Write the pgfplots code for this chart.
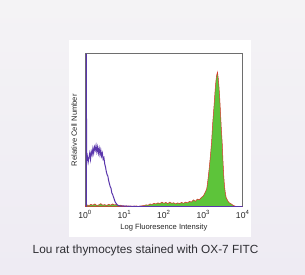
\documentclass[border=0pt]{standalone}
\usepackage{pgfplots}
\pgfplotsset{compat=1.18}
\usepackage{fontspec}
\setmainfont{Liberation Sans}
\definecolor{bgtop}{HTML}{F4F3F5}
\definecolor{bgbot}{HTML}{EEEBF3}
\definecolor{histpurple}{HTML}{5A36AC}
\definecolor{histgreen}{HTML}{5DC43A}
\definecolor{histred}{HTML}{D8332C}
\definecolor{frame}{HTML}{6E6E6E}
\definecolor{captxt}{HTML}{2E2E33}
\pgfplotstableread{
x y
0.035 0.0
0.035 1.0
0.04 0.30
0.06 0.33
0.08 0.29
0.10 0.32
0.12 0.35
0.14 0.31
0.16 0.36
0.18 0.34
0.20 0.38
0.22 0.35
0.24 0.39
0.26 0.37
0.28 0.40
0.30 0.36
0.32 0.39
0.34 0.35
0.36 0.38
0.38 0.34
0.40 0.37
0.42 0.33
0.44 0.35
0.46 0.31
0.48 0.32
0.50 0.28
0.52 0.26
0.54 0.23
0.56 0.21
0.58 0.20
0.60 0.17
0.62 0.15
0.64 0.13
0.66 0.12
0.68 0.09
0.70 0.08
0.72 0.065
0.74 0.05
0.76 0.035
0.78 0.025
0.80 0.018
0.82 0.012
0.85 0.008
0.88 0.005
0.92 0.003
0.96 0.006
1.00 0.002
1.05 0.005
1.10 0.001
1.15 0.004
1.20 0.0
1.25 0.003
1.30 0.0
1.40 0.002
1.50 0.0
4.00 0.0
}\purpledata
\pgfplotstableread{
x y
0.00 0.005
0.05 0.012
0.10 0.008
0.15 0.015
0.20 0.010
0.25 0.018
0.30 0.008
0.35 0.012
0.40 0.020
0.45 0.010
0.50 0.014
0.55 0.008
0.60 0.016
0.65 0.010
0.70 0.018
0.75 0.012
0.80 0.015
0.85 0.006
0.90 0.010
0.95 0.004
1.00 0.006
1.05 0.003
1.10 0.005
1.15 0.002
1.20 0.004
1.25 0.003
1.30 0.005
1.35 0.002
1.40 0.004
1.45 0.006
1.50 0.008
1.55 0.012
1.60 0.010
1.65 0.018
1.70 0.015
1.75 0.022
1.80 0.018
1.85 0.025
1.90 0.020
1.95 0.030
2.00 0.022
2.05 0.028
2.10 0.020
2.15 0.030
2.20 0.022
2.25 0.026
2.30 0.018
2.35 0.025
2.40 0.020
2.45 0.028
2.50 0.022
2.55 0.030
2.60 0.025
2.65 0.035
2.70 0.030
2.75 0.045
2.80 0.035
2.85 0.050
2.90 0.045
2.95 0.060
3.00 0.070
3.03 0.085
3.06 0.100
3.09 0.120
3.12 0.180
3.15 0.250
3.18 0.330
3.21 0.420
3.24 0.550
3.27 0.650
3.30 0.760
3.32 0.820
3.34 0.860
3.36 0.880
3.38 0.840
3.40 0.780
3.42 0.700
3.44 0.600
3.46 0.500
3.48 0.420
3.50 0.300
3.52 0.200
3.54 0.130
3.56 0.090
3.58 0.060
3.60 0.050
3.63 0.035
3.66 0.025
3.70 0.020
3.74 0.012
3.78 0.006
3.82 0.003
3.86 0.000
4.00 0.000
}\greendata
\begin{document}
\begin{tikzpicture}[x=1pt,y=1pt]
\useasboundingbox (0,0) rectangle (305,275);
\shade[top color=bgtop,bottom color=bgbot] (0,0) rectangle (305,275);
\fill[white] (69,38) rectangle (251,235);
\begin{axis}[
  at={(85pt,68.3pt)}, anchor=south west,
  scale only axis, width=157.7pt, height=153pt,
  xmin=0, xmax=4, ymin=0, ymax=1,
  axis line style={draw=frame, line width=0.6pt},
  xtick={0,1,2,3,4},
  xticklabels={10\textsuperscript{0},10\textsuperscript{1},10\textsuperscript{2},10\textsuperscript{3},10\textsuperscript{4}},
  xtick style={draw=none},
  ytick=\empty,
  tick label style={font=\fontsize{8.6}{10}\selectfont, text=black!85},
  xticklabel style={yshift=-0.5pt},
  xlabel={Log Fluoresence Intensity},
  ylabel={Relative Cell Number},
  label style={font=\fontsize{7.6}{9}\selectfont, text=black!85},
  xlabel style={at={(axis description cs:0.5,-0.136)}, anchor=center},
  ylabel style={at={(axis description cs:-0.068,0.5)}, anchor=center, rotate=0},
  clip=true,
]
\addplot[fill=histgreen, draw=histred, line width=0.5pt] table[x=x,y=y] {\greendata} \closedcycle;
\addplot[draw=histpurple, line width=1pt] table[x=x,y=y] {\purpledata};
\end{axis}
\node[text=captxt, font=\fontsize{11.8}{14}\selectfont] at (145.5,25) {Lou rat thymocytes stained with OX-7 FITC};
\end{tikzpicture}
\end{document}
